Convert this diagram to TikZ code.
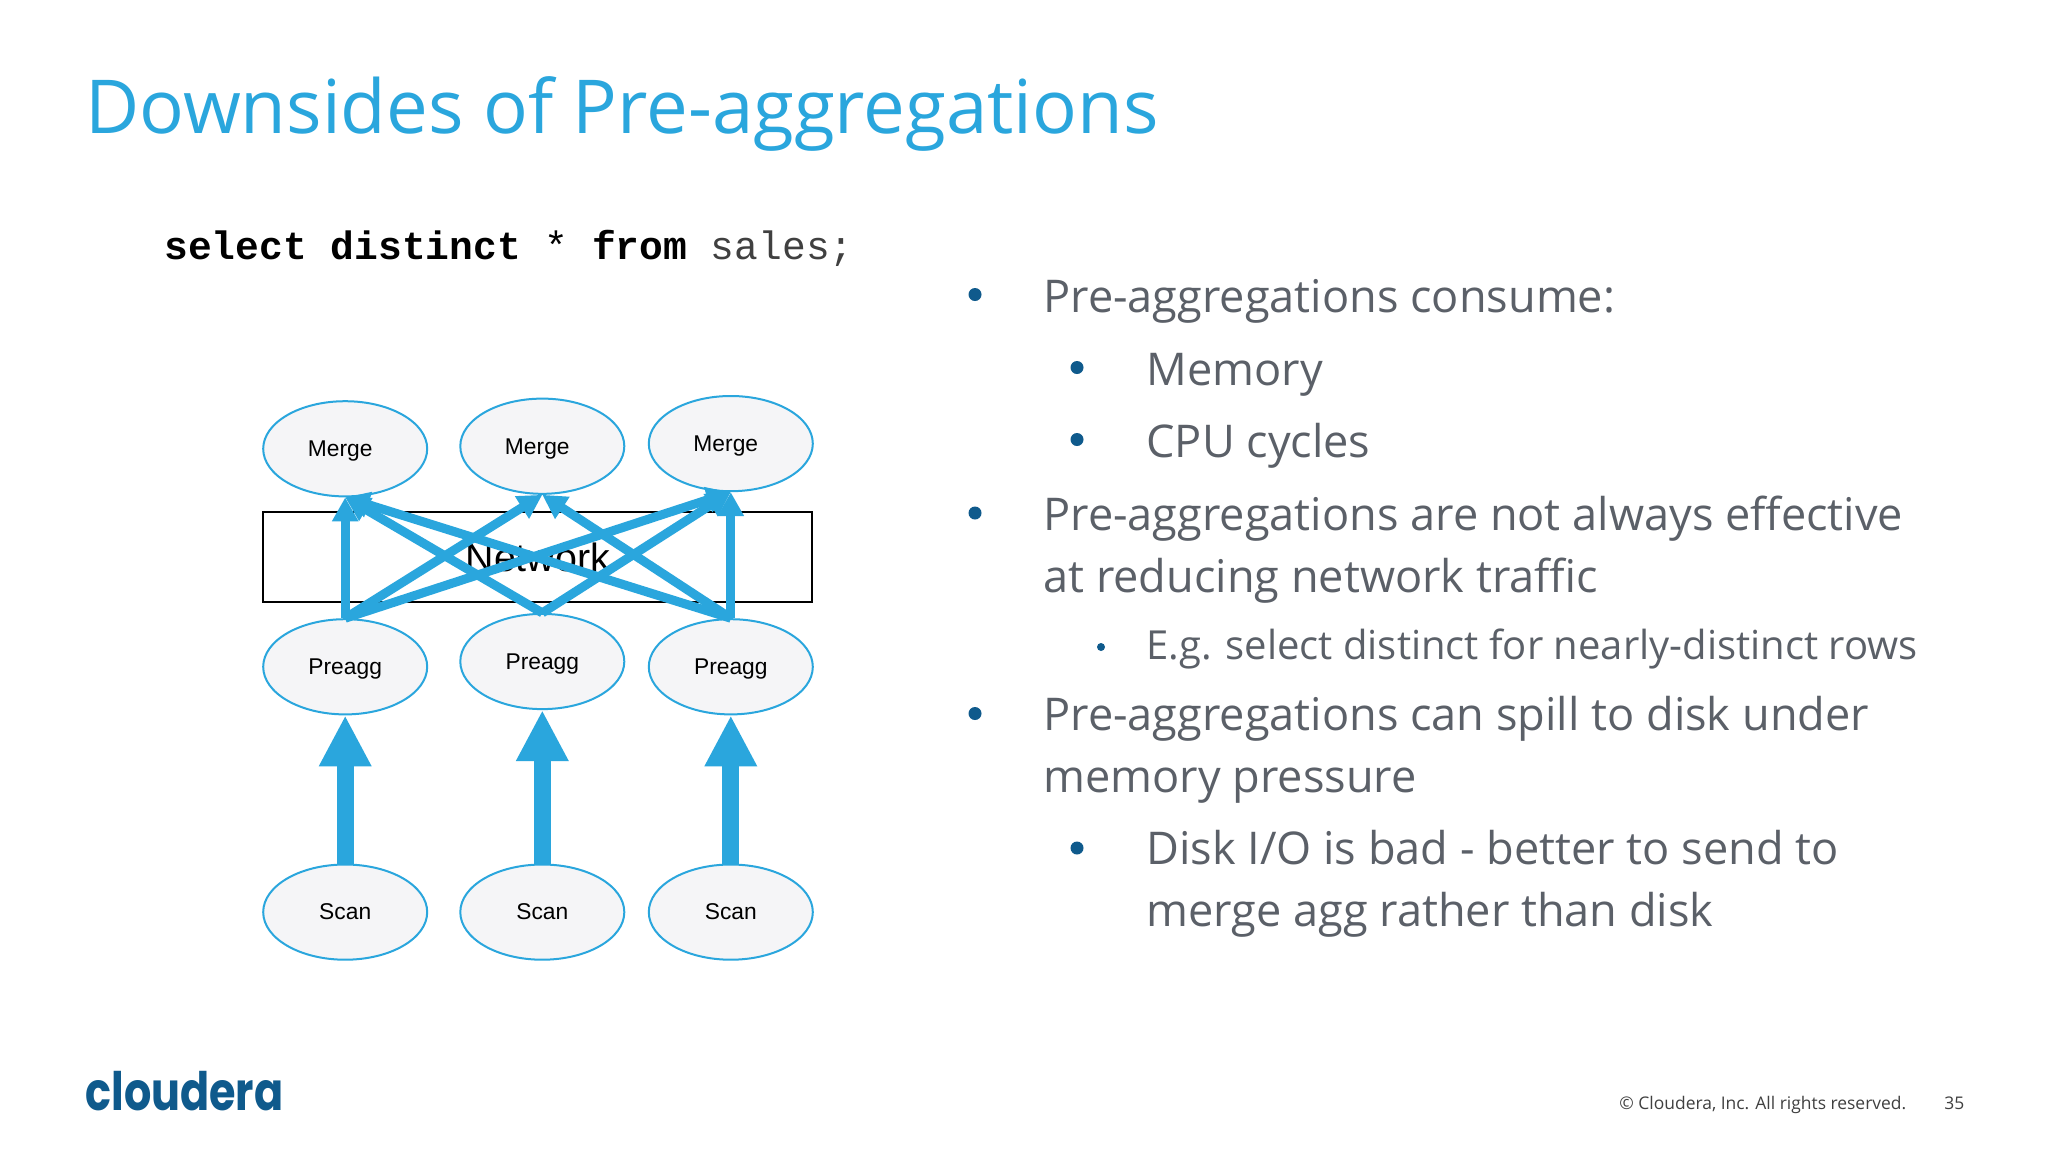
\documentclass[tikz,border=0pt]{standalone}
\usepackage{fontspec}
\setmainfont{Open Sans}
\newfontfamily\arialf{Liberation Sans}
\newfontfamily\monof{Liberation Mono}
\newfontfamily\logof{Poppins}
\usetikzlibrary{shapes.geometric,arrows.meta}
\definecolor{acc}{HTML}{2AA6DD}
\definecolor{bodytxt}{HTML}{5B6068}
\definecolor{navy}{HTML}{0F5A8C}
\definecolor{nodefill}{HTML}{F5F5F7}
\tikzset{
  x=0.5pt,y=-0.5pt,
  op/.style={ellipse,draw=acc,line width=1pt,fill=nodefill,minimum width=82pt,minimum height=47.6pt,inner sep=0pt,text height=8pt,text depth=0.2pt,font=\arialf\fontsize{11.4}{13}\selectfont,text=black},
  thin arrow/.style={draw=acc,line width=4.5pt,-{Triangle[width=12.5pt,length=12pt]}},
  thick arrow/.style={draw=acc,line width=8.5pt,-{Triangle[width=24.5pt,length=25.5pt]}},
  body/.style={anchor=base west,text=bodytxt,inner sep=0pt,font=\fontsize{22.55}{26}\selectfont},
  small body/.style={anchor=base west,text=bodytxt,inner sep=0pt,font=\fontsize{20}{24}\selectfont},
  bul/.style={circle,fill=navy,inner sep=0pt,minimum size=6.5pt},
  small bul/.style={circle,fill=navy,inner sep=0pt,minimum size=4pt},
}
\begin{document}
\begin{tikzpicture}
\useasboundingbox (0,0) rectangle (2048,1152);
\fill[white] (0,0) rectangle (2048,1152);
\node[anchor=base west,inner sep=0pt,text=acc,font=\fontsize{37.2}{44}\selectfont] (title) at (85,133.5) {Downsides of Pre-aggregations};
\node[anchor=base west,inner sep=0pt,font=\monof\fontsize{19.8}{24}\selectfont,text=black] (sql) at (164,259) {\textbf{select distinct} * \textbf{from} {\color{black!75}sales;}};
% diagram
\node[draw=black,line width=1pt,minimum width=274.4pt,minimum height=44.7pt,inner sep=0pt,font=\arialf\fontsize{19.7}{22}\selectfont,text=black] (net) at (537.8,557) {Network};
\node[op] (m1) at (345.2,448.8) {Merge\kern5pt};
\node[op] (m2) at (542.3,446.2) {Merge\kern5pt};
\node[op] (m3) at (730.8,443.6) {Merge\kern5pt};
\node[op] (p1) at (345.2,666.8) {Preagg};
\node[op] (p2) at (542.3,661.5) {Preagg};
\node[op] (p3) at (730.8,666.8) {Preagg};
\node[op] (s1) at (345.2,912.1) {Scan};
\node[op] (s2) at (542.3,912.1) {Scan};
\node[op] (s3) at (730.8,912.1) {Scan};
\foreach \a/\b in {s1/p1,s2/p2,s3/p3}
  \draw[thick arrow] (\a.north) -- (\b.south);
\foreach \a/\b in {p1/m1,p1/m2,p1/m3,p2/m1,p2/m3,p3/m1,p3/m2,p3/m3}
  \draw[thin arrow] (\a.north) -- (\b.south);
% bullets
\node[bul] (b1) at (975,294.5) {};
\node[body] (t1) at (1043,312.5) {Pre-aggregations consume:};
\node[bul] (b2) at (1077,367.5) {};
\node[body] (t2) at (1146,385.5) {Memory};
\node[bul] (b3) at (1077,439.5) {};
\node[body] (t3) at (1146,457.2) {CPU cycles};
\node[bul] (b4) at (975,513) {};
\node[body] (t4) at (1043,530.2) {Pre-aggregations are not always effective};
\node[body] (t5) at (1043,592.2) {at reducing network traffic};
\node[small bul] (b5) at (1101,647) {};
\node[small body] (t6) at (1146,659.2) {E.g. select distinct for nearly-distinct rows};
\node[bul] (b6) at (975,713.5) {};
\node[body] (t7) at (1043,730.2) {Pre-aggregations can spill to disk under};
\node[body] (t8) at (1043,792.2) {memory pressure};
\node[bul] (b7) at (1077,848) {};
\node[body] (t9) at (1146,864.6) {Disk I/O is bad - better to send to};
\node[body] (t10) at (1146,926.6) {merge agg rather than disk};
% footer
\node[anchor=base west,inner sep=0pt,text=navy,font=\logof\bfseries\fontsize{26.5}{30}\selectfont] (logo) at (85,1110) {\scalebox{0.81}[1]{cloudera}};
\node[anchor=base west,inner sep=0pt,text=black!75,font=\fontsize{8.72}{11}\selectfont] (copy) at (1619,1109) {© Cloudera, Inc. All rights reserved.};
\node[anchor=base west,inner sep=0pt,text=black!75,font=\fontsize{8.72}{11}\selectfont] (pg) at (1944,1109) {35};
\end{tikzpicture}
\end{document}
